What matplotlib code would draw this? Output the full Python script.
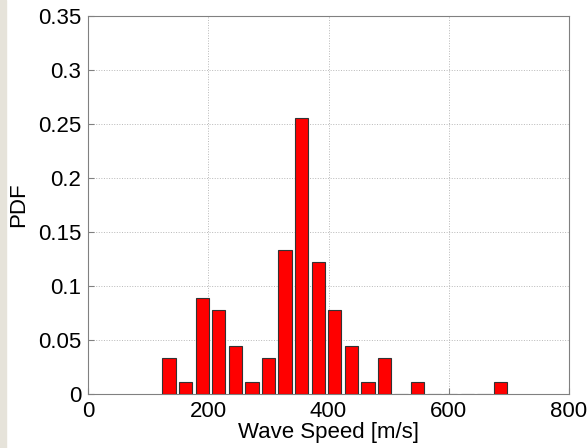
import matplotlib
matplotlib.use('Agg')
import matplotlib.pyplot as plt
import numpy as np
from matplotlib.patches import Rectangle

# histogram bin centres (m/s) and PDF values
bin_start = 134.8
bin_step = 27.56
pdf = [0.0333, 0.0111, 0.0889, 0.0778, 0.0444, 0.0111, 0.0333, 0.1333,
       0.2556, 0.1222, 0.0778, 0.0444, 0.0111, 0.0333, 0.0, 0.0111,
       0.0, 0.0, 0.0, 0.0, 0.0111]
centers = [bin_start + bin_step * i for i in range(len(pdf))]
xticks = [0, 200, 400, 600, 800]
yticks = [0, 0.05, 0.1, 0.15, 0.2, 0.25, 0.3, 0.35]
ytick_labels = ['0', '0.05', '0.1', '0.15', '0.2', '0.25', '0.3', '0.35']

plt.rcParams['font.family'] = ['Liberation Sans', 'DejaVu Sans']

fig = plt.figure(figsize=(5.88, 4.48), dpi=100)
fig.patches.append(Rectangle((0, 0), 6 / 588, 1, transform=fig.transFigure,
                             color='#e6e3da', zorder=0))
ax = fig.add_axes([88 / 588, 1 - 394 / 448, 481 / 588, 378 / 448])

ax.bar(centers, pdf, width=bin_step * 0.8, color='red', edgecolor='#333333',
       linewidth=0.8, zorder=3)

ax.set_xlim(0, 800)
ax.set_ylim(0, 0.35)
ax.set_xticks(xticks)
ax.set_yticks(yticks)
ax.set_yticklabels(ytick_labels)
ax.grid(True, linestyle=':', color='#b8b8b8', linewidth=0.7, zorder=0)
ax.tick_params(direction='in', labelsize=16, colors='#808080', labelcolor='black',
               length=4, pad=5)
for s in ax.spines.values():
    s.set_color('#808080')
ax.set_xlabel('Wave Speed [m/s]', fontsize=16, labelpad=0)
ax.set_ylabel('PDF', fontsize=16, labelpad=6)

fig.savefig('out.png', dpi=100)
